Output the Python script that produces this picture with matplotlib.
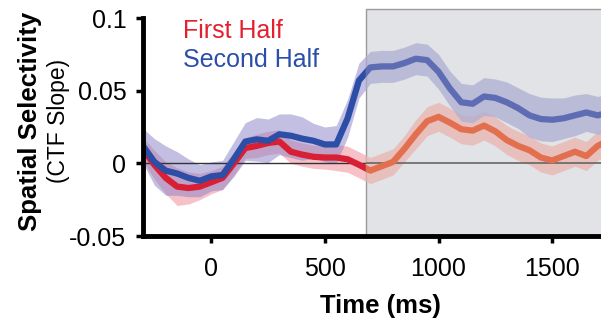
import numpy as np
import matplotlib
matplotlib.use("Agg")
import matplotlib.pyplot as plt
from matplotlib.patches import Rectangle

plt.rcParams['font.family'] = ['Liberation Sans', 'DejaVu Sans']

time_ms = list(range(-300, 1751, 50))

second_half = [0.012, 0.001, -0.005, -0.007, -0.010, -0.012, -0.009, -0.008, 0.003, 0.015,
               0.0165, 0.0155, 0.020, 0.019, 0.017, 0.0155, 0.013, 0.013, 0.031, 0.057,
               0.066, 0.0667, 0.0667, 0.069, 0.072, 0.071, 0.063, 0.0515, 0.042, 0.041,
               0.046, 0.045, 0.042, 0.038, 0.033, 0.0305, 0.030, 0.031, 0.033, 0.035,
               0.033, 0.035]
second_err = [0.012, 0.016, 0.017, 0.015, 0.013, 0.011, 0.010, 0.010, 0.012, 0.013,
              0.015, 0.015, 0.014, 0.015, 0.015, 0.012, 0.012, 0.013, 0.013, 0.012,
              0.011, 0.011, 0.011, 0.011, 0.011, 0.011, 0.012, 0.012, 0.013, 0.013,
              0.013, 0.013, 0.014, 0.014, 0.015, 0.015, 0.015, 0.014, 0.014, 0.013,
              0.013, 0.013]

first_half = [0.0097, -0.001, -0.010, -0.016, -0.017, -0.016, -0.013, -0.010, 0.000, 0.0105,
              0.012, 0.014, 0.015, 0.008, 0.006, 0.0045, 0.004, 0.004, 0.0028, -0.001,
              -0.005, -0.002, 0.001, 0.010, 0.020, 0.029, 0.032, 0.028, 0.0235, 0.0225,
              0.026, 0.022, 0.016, 0.012, 0.009, 0.004, 0.002, 0.005, 0.008, 0.005,
              0.012, 0.016]
first_err = [0.008, 0.010, 0.011, 0.013, 0.011, 0.009, 0.008, 0.008, 0.008, 0.007,
             0.008, 0.008, 0.008, 0.008, 0.008, 0.008, 0.008, 0.009, 0.009, 0.009,
             0.009, 0.009, 0.009, 0.009, 0.010, 0.010, 0.010, 0.010, 0.010, 0.010,
             0.010, 0.010, 0.010, 0.010, 0.010, 0.010, 0.010, 0.010, 0.010, 0.010,
             0.010, 0.010]

xticks = [0, 500, 1000, 1500]
yticks = [-0.05, 0, 0.05, 0.1]
ytick_labels = ['-0.05', '0', '0.05', '0.1']
delay_start = 680

t = np.array(time_ms)
s2 = np.array(second_half); e2 = np.array(second_err)
s1 = np.array(first_half); e1 = np.array(first_err)

fig = plt.figure(figsize=(6.01, 3.28), dpi=100)
ax = fig.add_axes([143/601, 1-236/328, 474/601, (236-18)/328])

# pre-delay appearance
ax.fill_between(t, s1-e1, s1+e1, color='#f39aa3', alpha=0.6, lw=0, zorder=2)
ax.fill_between(t, s2-e2, s2+e2, color='#8880c6', alpha=0.5, lw=0, zorder=2)
ax.axhline(0, color='#333333', lw=1.0, zorder=3)
ax.plot(t, s1, color='#d81f33', lw=4.5, solid_capstyle='round', solid_joinstyle='round', zorder=4)
ax.plot(t, s2, color='#2c4ea6', lw=4.5, solid_capstyle='round', solid_joinstyle='round', zorder=4)

# delay period box
rect = Rectangle((delay_start, -0.05), 2000, 0.156, facecolor='#e1e3e6',
                 edgecolor='#9a9a9a', lw=1.0, zorder=5, clip_on=False)
ax.add_patch(rect)
arts = []
arts.append(ax.fill_between(t, s1-e1, s1+e1, color='#eab4b0', alpha=0.75, lw=0, zorder=6))
arts.append(ax.fill_between(t, s2-e2, s2+e2, color='#aeaed2', alpha=0.75, lw=0, zorder=6))
arts.append(ax.axhline(0, color='#666666', lw=1.2, zorder=7))
arts += ax.plot(t, s1, color='#e2704f', lw=4.5, solid_joinstyle='round', zorder=8)
arts += ax.plot(t, s2, color='#5e6db3', lw=4.5, solid_joinstyle='round', zorder=8)
for a in arts:
    a.set_clip_path(rect)

ax.set_xlim(-300, 1785)
ax.set_ylim(-0.05, 0.1)
ax.set_xticks(xticks)
ax.set_xticklabels([str(v) for v in xticks])
ax.set_yticks(yticks)
ax.set_yticklabels(ytick_labels)
for s in ['top', 'right']:
    ax.spines[s].set_visible(False)
for s in ['left', 'bottom']:
    ax.spines[s].set_linewidth(3.5)
    ax.spines[s].set_zorder(10)
ax.tick_params(direction='out', length=5, width=2.5, labelsize=18, colors='black')
ax.tick_params(axis='x', pad=10)
ax.tick_params(axis='y', pad=7)

fig.text(183/601, 1-38/328, 'First Half', color='#e3202e', fontsize=18, va='baseline', ha='left')
fig.text(183/601, 1-67/328, 'Second Half', color='#2b4fa8', fontsize=18, va='baseline', ha='left')

fig.text(30/601, 1-121/328, 'Spatial Selectivity', rotation=90, fontsize=18.5,
         fontweight='bold', ha='center', va='center')
fig.text(59/601, 1-121/328, '(CTF Slope)', rotation=90, fontsize=16.5,
         ha='center', va='center')
fig.text(380/601, 1-306/328, 'Time (ms)', fontsize=18.5, fontweight='bold',
         ha='center', va='center')

fig.savefig('out.png', dpi=100)
